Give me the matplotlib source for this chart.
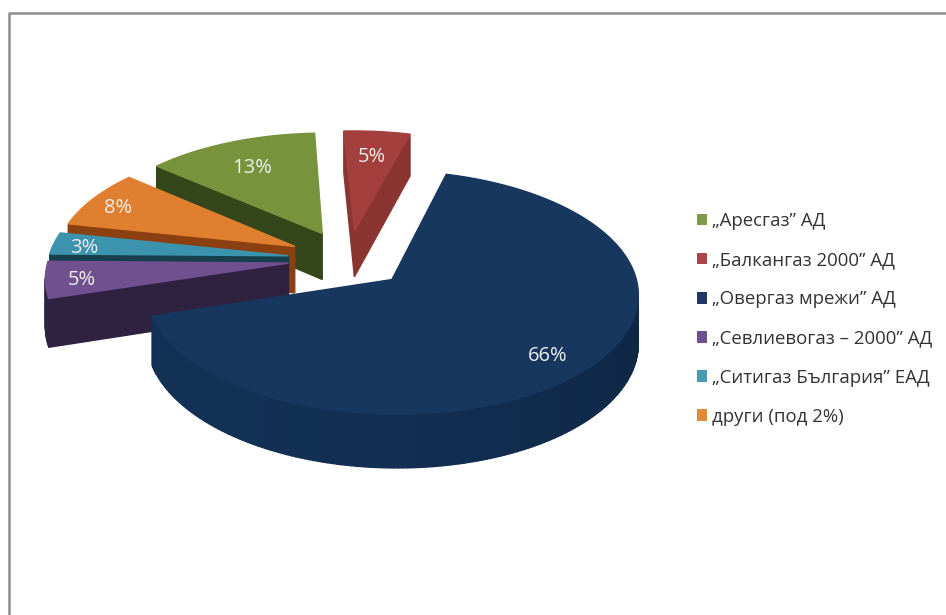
import numpy as np
import matplotlib
matplotlib.use("Agg")
import matplotlib.pyplot as plt
from matplotlib.patches import Polygon, Patch
from matplotlib.colors import to_rgb

plt.rcParams['font.family'] = ['Open Sans', 'DejaVu Sans']

names = ['„Аресгаз” АД', '„Балкангаз 2000” АД', '„Овергаз мрежи” АД',
         '„Севлиевогаз – 2000” АД', '„Ситигаз България” ЕАД', 'други (под 2%)']
shares = [13, 5, 66, 5, 3, 8]

top_colors = ['#77933C', '#A33F3D', '#17375E', '#71508F', '#3C93AE', '#E07F30']
side_colors = ['#36461B', '#8B3533', '#122E52', '#2F2140', '#173F4D', '#8A4010']
legend_colors = ['#7F9A48', '#A8474A', '#1F3864', '#6B5190', '#4A9BB0', '#E08B3C']

# back to front
draw_order = [0, 1, 5, 4, 3, 2]
label_frac = [0.74, 0.76, 0.82, 0.85, 0.87, 0.87]

first_angle = -49.5
explode = 0.25
CX, CY = 348, 259
RX, RY = 240, 116
PERSP = 0.105
DEPTH = 47


def project(u, v, z=0.0):
    f = 1.0 / (1.0 + PERSP * v)
    return CX + RX * u * f, CY - RY * v * f + DEPTH * z * f


def area(pts):
    x = np.array([p[0] for p in pts])
    y = np.array([p[1] for p in pts])
    return 0.5 * np.sum(x * np.roll(y, -1) - np.roll(x, -1) * y)


def face(ax, pts, color, z):
    ax.add_patch(Polygon(pts, closed=True, facecolor=color, edgecolor=color, linewidth=1.0, zorder=z))


def draw_slice(ax, a0, a1, top, side, z):
    mid = np.radians((a0 + a1) / 2)
    ou, ov = explode * np.sin(mid), explode * np.cos(mid)
    th = np.radians(np.linspace(a0, a1, max(int(a1 - a0), 4) + 1))
    us = ou + np.sin(th)
    vs = ov + np.cos(th)

    # cut faces, only those turned to the viewer
    first = [project(ou, ov), project(us[0], vs[0]), project(us[0], vs[0], 1), project(ou, ov, 1)]
    last = [project(us[-1], vs[-1]), project(ou, ov), project(ou, ov, 1), project(us[-1], vs[-1], 1)]
    for q in (first, last):
        if area(q) < 0:
            face(ax, q, side, z)

    # outer wall
    base = np.array(to_rgb(side))
    for i in range(len(th) - 1):
        q = [project(us[i], vs[i]), project(us[i + 1], vs[i + 1]),
             project(us[i + 1], vs[i + 1], 1), project(us[i], vs[i], 1)]
        if area(q) < 0:
            shade = 0.92 + 0.12 * np.cos(th[i] - np.radians(230))
            face(ax, q, np.clip(base * shade, 0, 1), z)

    outline = [project(ou, ov)] + [project(a, b) for a, b in zip(us, vs)]
    face(ax, outline, top, z + 0.5)
    return ou, ov


fig = plt.figure(figsize=(9.46, 6.15), dpi=100)
ax = fig.add_axes([0, 0, 1, 1])
ax.set_xlim(0, 946)
ax.set_ylim(615, 0)
ax.axis('off')

# chart area frame
ax.plot([8.5, 8.5, 946], [615, 13, 13], color='#8C8C8C', lw=1.8, zorder=1)

edges = first_angle + np.concatenate([[0], np.cumsum(shares)]) * 3.6
for n, i in enumerate(draw_order):
    ou, ov = draw_slice(ax, edges[i], edges[i + 1], top_colors[i], side_colors[i], 2 + n)
    mid = np.radians((edges[i] + edges[i + 1]) / 2)
    lx, ly = project(ou + label_frac[i] * np.sin(mid), ov + label_frac[i] * np.cos(mid))
    ax.text(lx, ly + 3, '%d%%' % shares[i], color='#EDEDED', fontsize=14.5, ha='center', va='center', zorder=20)

handles = [Patch(facecolor=c, edgecolor='none') for c in legend_colors]
ax.legend(handles, names, loc='center left', bbox_to_anchor=(697 / 946, 1 - 319 / 615), frameon=False,
          fontsize=13.4, labelcolor='#333333', handlelength=0.55, handleheight=0.55, handletextpad=0.27,
          labelspacing=1.13, borderpad=0, borderaxespad=0)

fig.savefig('out.png', dpi=100, facecolor='white')
